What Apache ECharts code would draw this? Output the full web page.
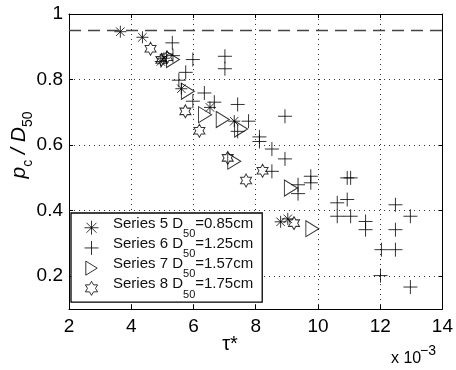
<!DOCTYPE html>
<html><head><meta charset="utf-8">
<script src="https://cdn.jsdelivr.net/npm/echarts@6/dist/echarts.min.js"></script>
<style>html,body{margin:0;padding:0;background:#fff}#c{width:456px;height:370px}</style>
</head><body><div id="c"></div>
<script>
// ---- data ----
const xRange = [2, 14];
const xInterval = 2;
const yRange = [0.1, 1];
const yTickValues = [0.2, 0.4, 0.6, 0.8, 1];
const criticalLevel = 0.95;

const seriesNames = ['Series 5', 'Series 6', 'Series 7', 'Series 8'];
const d50Values = ['0.85', '1.25', '1.57', '1.75'];

const s5Tau = [3.65, 4.36, 4.95, 5.05, 5.61, 6.53, 7.31, 8.80, 9.03];
const s5P   = [0.946, 0.929, 0.855, 0.865, 0.772, 0.715, 0.673, 0.366, 0.375];

const s6Tau = [5.32, 5.34, 5.98, 5.75, 5.53, 6.35, 6.67, 5.98, 7.42, 7.77, 7.01, 7.01, 8.94, 7.42, 8.12, 8.12, 8.52, 8.94, 8.52, 9.36, 9.36, 9.77, 9.77, 10.94, 11.05, 10.62, 10.94, 10.62, 11.05, 11.53, 11.53, 12.49, 12.97, 12.49, 12.04, 12.49, 12.01, 12.97];
const s6P   = [0.912, 0.873, 0.861, 0.822, 0.798, 0.759, 0.731, 0.734, 0.724, 0.673, 0.871, 0.833, 0.688, 0.642, 0.625, 0.611, 0.588, 0.558, 0.520, 0.479, 0.452, 0.505, 0.485, 0.500, 0.500, 0.424, 0.434, 0.383, 0.383, 0.367, 0.342, 0.418, 0.383, 0.342, 0.281, 0.281, 0.202, 0.167];

const s7Tau = [5.34, 5.82, 6.37, 6.94, 7.53, 7.31, 9.13, 9.82];
const s7P   = [0.861, 0.764, 0.693, 0.678, 0.649, 0.551, 0.469, 0.345];

const s8Tau = [4.62, 4.97, 5.15, 5.74, 6.19, 7.10, 7.69, 8.22, 9.23];
const s8P   = [0.894, 0.860, 0.868, 0.703, 0.644, 0.561, 0.492, 0.522, 0.362];

// ---- build ----
const FONT = "'Liberation Sans', Arial, Helvetica, sans-serif";
const zip = (a, b) => a.map((v, i) => [v, b[i]]);

const SYM_AST  = 'path://M6,0L6,12M0,6L12,6M1.76,1.76L10.24,10.24M1.76,10.24L10.24,1.76';
const SYM_PLUS = 'path://M7,0L7,14M0,7L14,7';
const SYM_TRI  = 'path://M0,0L13,8L0,16Z';
const SYM_HEX  = 'path://M5.63,0L7.51,3.25L11.26,3.25L9.38,6.5L11.26,9.75L7.51,9.75L5.63,13L3.75,9.75L0,9.75L1.88,6.5L0,3.25L3.75,3.25Z';

const markerStyle = { color: 'rgba(0,0,0,0)', borderColor: '#000', borderWidth: 1 };

function scatter(name, tau, p, symbol, size, extra) {
  return Object.assign({
    name, type: 'scatter', data: zip(tau, p), symbol, symbolSize: size,
    itemStyle: markerStyle, emphasis: { disabled: true }, silent: true
  }, extra || {});
}

const chart = echarts.init(document.getElementById('c'), null, { renderer: 'canvas' });

const axisCommon = {
  type: 'value',
  axisLine: { show: true, onZero: false, lineStyle: { color: '#000', width: 1 } },
  axisTick: { show: true, inside: true, length: 4, lineStyle: { color: '#000' } }
};

chart.setOption({
  animation: false,
  backgroundColor: '#fff',
  grid: { left: 69, right: 12, top: 14, bottom: 61, containLabel: false },
  xAxis: [
    Object.assign({}, axisCommon, {
      min: xRange[0], max: xRange[1], interval: xInterval, position: 'bottom',
      axisLabel: { color: '#000', fontSize: 19, fontFamily: FONT, margin: 8 },
      splitLine: { show: true, lineStyle: { color: '#333', width: 1, type: [1, 4] } }
    }),
    Object.assign({}, axisCommon, {
      min: xRange[0], max: xRange[1], interval: xInterval, position: 'top',
      axisLabel: { show: false }, splitLine: { show: false }
    })
  ],
  yAxis: [
    Object.assign({}, axisCommon, {
      min: yRange[0], max: yRange[1], position: 'left',
      axisTick: { show: true, inside: true, length: 4, lineStyle: { color: '#000' }, customValues: yTickValues },
      axisLabel: { color: '#000', fontSize: 19, fontFamily: FONT, margin: 6, customValues: yTickValues,
        formatter: v => (Math.abs(v - 1) < 1e-9 ? '1' : v.toFixed(1)) },
      splitLine: { show: true, lineStyle: { color: '#333', width: 1, type: [1, 4] } }
    }),
    Object.assign({}, axisCommon, {
      min: yRange[0], max: yRange[1], position: 'right',
      axisTick: { show: true, inside: true, length: 4, lineStyle: { color: '#000' }, customValues: yTickValues },
      axisLabel: { show: false, customValues: yTickValues }, splitLine: { show: false }
    })
  ],
  legend: {
    orient: 'vertical', left: 71, top: 213,
    padding: [3, 9, 2, 13],
    itemWidth: 33, itemHeight: 14, itemGap: -3.3,
    backgroundColor: '#fff', borderColor: '#000', borderWidth: 1.3, borderRadius: 0,
    selectedMode: false,
    itemStyle: { color: 'rgba(0,0,0,0)', borderColor: '#000', borderWidth: 1 },
    textStyle: {
      fontFamily: FONT, fontSize: 15, color: '#111',
      rich: {
        m: { fontFamily: FONT, fontSize: 15, color: '#111', verticalAlign: 'top' },
        s: { fontFamily: FONT, fontSize: 11, color: '#111', verticalAlign: 'bottom', padding: [12.5, 0, 0, 0] }
      }
    },
    formatter: name => {
      const i = seriesNames.indexOf(name);
      return '{m|' + name + ' D}{s|50}{m|=' + d50Values[i] + 'cm}';
    },
    data: seriesNames
  },
  graphic: [
    { type: 'text', x: 22, y: 145, rotation: Math.PI / 2, silent: true,
      style: { text: '{i|p}{s|c}{i| / D}{s|50}', align: 'center', verticalAlign: 'middle', fill: '#000',
        rich: {
          i: { fontFamily: FONT, fontSize: 21, fontStyle: 'italic', fill: '#000', verticalAlign: 'top' },
          s: { fontFamily: FONT, fontSize: 14, fill: '#000', verticalAlign: 'bottom', padding: [12, 0, 0, 0] }
        } } },
    { type: 'text', x: 230, y: 344, silent: true,
      style: { text: 'τ*', font: '20px ' + FONT, fill: '#000', align: 'center', verticalAlign: 'middle' } },
    { type: 'text', x: 391, y: 359, silent: true,
      style: { text: 'x 10', font: '16px ' + FONT, fill: '#000', align: 'left', verticalAlign: 'middle' } },
    { type: 'text', x: 420, y: 351, silent: true,
      style: { text: '−3', font: '14px ' + FONT, fill: '#000', align: 'left', verticalAlign: 'middle' } }
  ],
  series: [
    scatter(seriesNames[0], s5Tau, s5P, SYM_AST, 12, {
      markLine: {
        silent: true, symbol: 'none', label: { show: false },
        lineStyle: { color: '#444', width: 1.3, type: [12, 7] },
        data: [{ yAxis: criticalLevel }]
      }
    }),
    scatter(seriesNames[1], s6Tau, s6P, SYM_PLUS, 14),
    scatter(seriesNames[2], s7Tau, s7P, SYM_TRI, [13, 16]),
    scatter(seriesNames[3], s8Tau, s8P, SYM_HEX, [11, 13])
  ]
});
</script>
</body></html>
